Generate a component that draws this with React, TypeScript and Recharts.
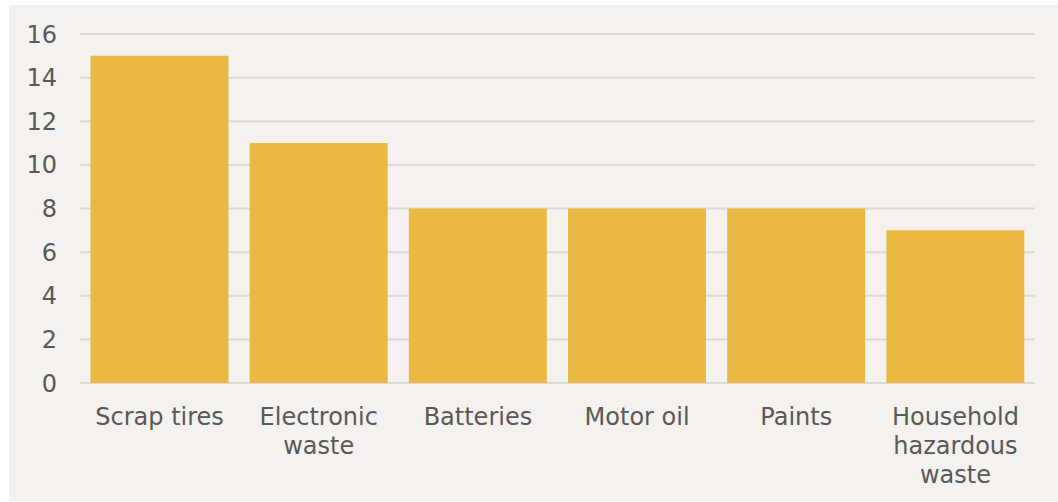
import { Bar, BarChart, CartesianGrid, XAxis, YAxis } from "recharts";

const categories = [
  "Scrap tires",
  "Electronic waste",
  "Batteries",
  "Motor oil",
  "Paints",
  "Household hazardous waste",
];
const values = [15, 11, 8, 8, 8, 7];
const yTicks = [0, 2, 4, 6, 8, 10, 12, 14, 16];
// how the category labels break onto lines under each bar
const labelLines = [
  ["Scrap tires"],
  ["Electronic", "waste"],
  ["Batteries"],
  ["Motor oil"],
  ["Paints"],
  ["Household", "hazardous", "waste"],
];

const FONT = "'DejaVu Sans', Verdana, sans-serif";
const FONT_SIZE = 24;
const TEXT_COLOR = "#595959";

const data = categories.map((name, i) => ({ name, value: values[i] }));

function CategoryTick(props: any) {
  const { x, y, index } = props;
  const lines = labelLines[index] || [props.payload.value];
  return (
    <text
      x={x}
      y={y}
      textAnchor="middle"
      fill={TEXT_COLOR}
      style={{ fontFamily: FONT, fontSize: FONT_SIZE }}
    >
      {lines.map((line, i) => (
        <tspan key={i} x={x} dy={i === 0 ? "0.71em" : 29}>
          {line}
        </tspan>
      ))}
    </text>
  );
}

export default function App() {
  return (
    <div
      style={{
        position: "absolute",
        left: 9,
        top: 5,
        width: 1049,
        height: 496,
        background: "#F4F1EE",
      }}
    >
      <BarChart
        width={1049}
        height={496}
        data={data}
        margin={{ top: 29, right: 23, bottom: 0, left: 0 }}
        barCategoryGap="6.6%"
      >
        <CartesianGrid vertical={false} stroke="#dcdad7" strokeWidth={2} />
        <XAxis
          dataKey="name"
          axisLine={false}
          tickLine={false}
          tickSize={0}
          tickMargin={25}
          height={118}
          interval={0}
          tick={<CategoryTick />}
        />
        <YAxis
          domain={[0, 16]}
          ticks={yTicks}
          axisLine={false}
          tickLine={false}
          tickSize={0}
          tickMargin={23}
          width={71}
          tick={{ fill: TEXT_COLOR, fontSize: FONT_SIZE, fontFamily: FONT }}
        />
        <Bar dataKey="value" fill="#EBB943" isAnimationActive={false} />
      </BarChart>
    </div>
  );
}
